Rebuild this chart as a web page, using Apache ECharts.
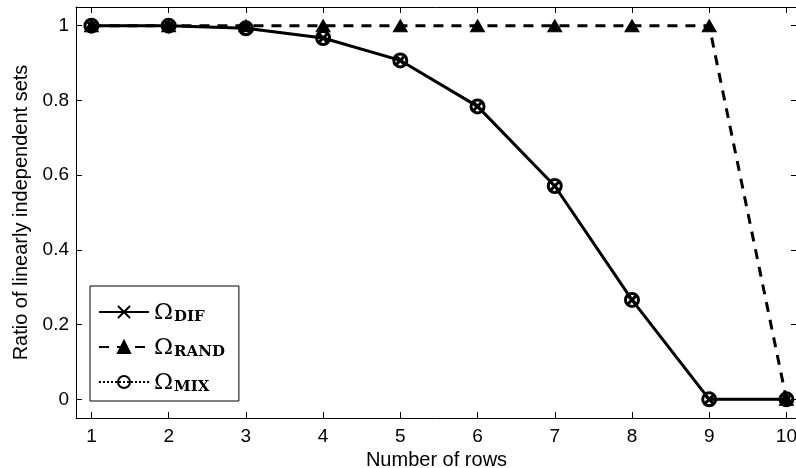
<!DOCTYPE html>
<html>
<head>
<meta charset="utf-8">
<script src="https://cdn.jsdelivr.net/npm/echarts@6/dist/echarts.min.js"></script>
<style>html,body{margin:0;padding:0;background:#fff;}#c{width:796px;height:468px;}</style>
</head>
<body>
<div id="c"></div>
<script>
var rows = [1, 2, 3, 4, 5, 6, 7, 8, 9, 10];
var difValues = [1, 1, 0.993, 0.967, 0.907, 0.784, 0.571, 0.266, 0, 0];
var randValues = [1, 1, 1, 1, 1, 1, 1, 1, 1, 0];
var mixValues = [1, 1, 0.993, 0.967, 0.907, 0.784, 0.571, 0.266, 0, 0];
var xTicks = [1, 2, 3, 4, 5, 6, 7, 8, 9, 10];
var yTicks = [0, 0.2, 0.4, 0.6, 0.8, 1];
var seriesNames = ['DIF', 'RAND', 'MIX'];

function pairs(vals) { return rows.map(function (r, i) { return [r, vals[i]]; }); }

var FONT = 'Liberation Sans';
var chart = echarts.init(document.getElementById('c'), null, { renderer: 'canvas' });

function xAx(pos, showLabel) {
  return {
    type: 'value', position: pos, min: 0.8, max: 10.137,
    axisLine: { show: true, onZero: false, lineStyle: { color: '#000', width: 1 } },
    axisTick: { show: true, inside: true, length: 6, customValues: xTicks, lineStyle: { color: '#000' } },
    axisLabel: { show: showLabel, customValues: xTicks, color: '#000', fontFamily: FONT, fontSize: 19, margin: 9 },
    splitLine: { show: false },
    name: showLabel ? 'Number of rows' : '', nameLocation: 'middle', nameGap: 30,
    nameTextStyle: { color: '#000', fontFamily: FONT, fontSize: 20 }
  };
}
function yAx(pos, showLabel) {
  return {
    type: 'value', position: pos, min: -0.05, max: 1.05,
    axisLine: { show: true, onZero: false, lineStyle: { color: '#000', width: 1 } },
    axisTick: { show: true, inside: true, length: 6, customValues: yTicks, lineStyle: { color: '#000' } },
    axisLabel: { show: showLabel, customValues: yTicks, color: '#000', fontFamily: FONT, fontSize: 19, margin: 7 },
    splitLine: { show: false },
    name: showLabel ? 'Ratio of linearly independent sets' : '', nameLocation: 'middle', nameGap: 37,
    nameTextStyle: { color: '#000', fontFamily: FONT, fontSize: 20 }
  };
}

var option = {
  animation: false,
  backgroundColor: '#fff',
  grid: { left: 76, right: -1, top: 7, bottom: 50, containLabel: false, outerBoundsMode: 'none' },
  xAxis: [xAx('bottom', true), xAx('top', false)],
  yAxis: [yAx('left', true), yAx('right', false)],
  legend: {
    orient: 'vertical', left: 90, top: 286,
    padding: [16, 14, 6, 8],
    itemGap: 12,
    itemWidth: 50, itemHeight: 15,
    borderColor: '#000', borderWidth: 1, backgroundColor: '#fff',
    data: seriesNames,
    formatter: function (n) { return '{o|Ω}{s|' + n + '}'; },
    textStyle: {
      color: '#000',
      rich: {
        o: { fontFamily: 'DejaVu Serif', fontSize: 23, color: '#000', verticalAlign: 'bottom', lineHeight: 26 },
        s: { fontFamily: 'DejaVu Serif', fontSize: 15, fontWeight: 'bold', color: '#000', verticalAlign: 'bottom', lineHeight: 26, padding: [8, 0, 0, 1] }
      }
    }
  },
  series: [
    {
      name: 'RAND', type: 'line', data: pairs(randValues), z: 2,
      symbol: 'triangle', symbolSize: [14, 12],
      lineStyle: { color: '#000', width: 3, type: [10, 8] },
      itemStyle: { color: '#000', borderColor: '#000', borderWidth: 1 }
    },
    {
      name: 'DIF', type: 'line', data: pairs(difValues), z: 3,
      symbol: 'path://M0,0L10,10M10,0L0,10', symbolSize: 8,
      lineStyle: { color: '#000', width: 3, type: 'solid' },
      itemStyle: { color: '#000', borderColor: '#000', borderWidth: 3 }
    },
    {
      name: 'MIX', type: 'line', data: pairs(mixValues), z: 4,
      symbol: 'circle', symbolSize: 13,
      lineStyle: { color: '#000', width: 2, type: 'dotted' },
      itemStyle: { color: 'rgba(0,0,0,0)', borderColor: '#000', borderWidth: 3 }
    }
  ]
};
chart.setOption(option);
</script>
</body>
</html>
